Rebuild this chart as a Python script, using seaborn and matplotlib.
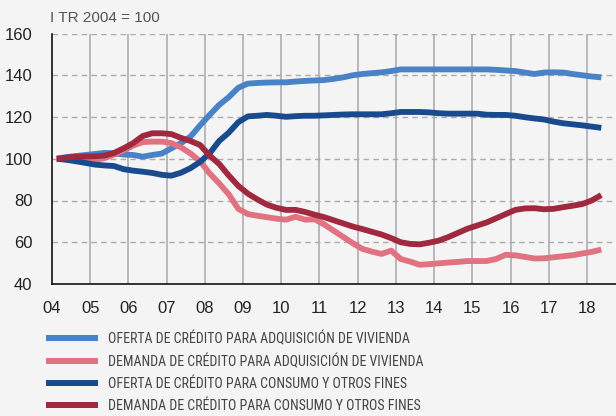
import os
import numpy as np
import pandas as pd
import matplotlib
matplotlib.use("Agg")
import matplotlib.pyplot as plt
from matplotlib import font_manager as fm
import seaborn as sns

# ---------------- data (quarterly, I TR 2004 = 100) ----------------
first_year = 2004
n_quarters = 58  # 2004 Q1 .. 2018 Q2

oferta_vivienda = [100, 100.8, 101.3, 101.8, 102.3, 102.8, 102.6, 102.0, 101.8, 101.0, 101.8, 102.5,
                   105.0, 107.5, 110.6, 116.0, 121.0, 125.8, 129.5, 134.0,
                   136.0, 136.3, 136.5, 136.6, 136.6, 137.0, 137.3, 137.5, 137.7, 138.3, 139.0, 140.0,
                   140.6, 141.0, 141.4, 142.0,
                   142.8, 142.8, 142.8, 142.8, 142.8, 142.8, 142.8, 142.8, 142.8, 142.8,
                   142.6, 142.3, 142.0, 141.3, 140.6, 141.3, 141.4, 141.3, 140.6, 140.0, 139.4, 139.0]
demanda_vivienda = [100, 99.8, 99.6, 99.3, 99.5, 100.3, 102.0, 104.0, 106.3, 108.0, 108.2, 108.2,
                    107.5, 105.5, 102.5, 98.8, 93.0, 88.2, 83.0, 76.0,
                    73.5, 72.7, 72.0, 71.3, 70.8, 72.2, 70.8, 71.0, 68.5, 65.5, 62.5, 59.5,
                    56.8, 55.5, 54.4, 56.0,
                    52.0, 50.7, 49.2, 49.5, 49.9, 50.3, 50.6, 51.0, 51.0, 51.0,
                    52.0, 54.0, 53.7, 53.0, 52.2, 52.3, 52.8, 53.3, 53.8, 54.6, 55.4, 56.5]
oferta_consumo = [100, 99.5, 98.8, 98.0, 97.2, 96.8, 96.5, 95.0, 94.3, 93.8, 93.2, 92.3,
                  91.9, 93.3, 95.5, 98.5, 102.6, 108.5, 112.5, 117.5,
                  120.3, 120.6, 121.0, 120.6, 120.1, 120.4, 120.6, 120.6, 120.8, 121.0, 121.2, 121.3,
                  121.3, 121.3, 121.3, 121.8,
                  122.4, 122.4, 122.4, 122.2, 121.8, 121.6, 121.6, 121.6, 121.6, 121.1,
                  121.0, 121.0, 120.6, 119.9, 119.3, 118.8, 117.8, 117.0, 116.5, 116.0, 115.4, 114.8]
demanda_consumo = [100, 100.5, 101.0, 101.1, 101.2, 101.5, 102.8, 105.0, 107.5, 110.9, 112.2, 112.2,
                   111.8, 110.0, 108.5, 106.6, 101.5, 97.5, 92.0, 87.0,
                   83.3, 80.5, 78.0, 76.5, 75.5, 75.5, 74.5, 73.2, 72.0, 70.5, 69.0, 67.5,
                   66.3, 65.0, 63.7, 62.0,
                   60.0, 59.2, 59.0, 59.8, 60.8, 62.5, 64.5, 66.5, 68.0, 69.5,
                   71.5, 73.5, 75.5, 76.2, 76.3, 75.8, 76.0, 76.8, 77.5, 78.3, 80.0, 82.6]

series_names = ["OFERTA DE CRÉDITO PARA ADQUISICIÓN DE VIVIENDA",
                "DEMANDA DE CRÉDITO PARA ADQUISICIÓN DE VIVIENDA",
                "OFERTA DE CRÉDITO PARA CONSUMO Y OTROS FINES",
                "DEMANDA DE CRÉDITO PARA CONSUMO Y OTROS FINES"]
series_values = [oferta_vivienda, demanda_vivienda, oferta_consumo, demanda_consumo]
series_colors = ["#4a82c7", "#e07282", "#1a4a8e", "#a0283f"]

year_ticks = list(range(2004, 2019))
year_labels = [f"{y % 100:02d}" for y in year_ticks]
y_ticks = [40, 60, 80, 100, 120, 140, 160]
unit_label = "I TR 2004 = 100"

# quarter mid-points as decimal years
quarter_idx = np.arange(n_quarters)
x_time = first_year + (quarter_idx + 0.5) / 4.0

rows = []
for name, vals in zip(series_names, series_values):
    for xt, v in zip(x_time, vals):
        rows.append({"t": xt, "valor": v, "serie": name})
df = pd.DataFrame(rows)

# ---------------- figure ----------------
sns.set_theme(style="white")
plt.rcParams["font.family"] = ["Liberation Sans", "DejaVu Sans"]

# legend font: prefer a narrow / condensed face if one is installed
legend_prop = fm.FontProperties(family=["Liberation Sans", "DejaVu Sans"], size=9)
cands = [f.fname for f in fm.fontManager.ttflist]
pref = None
for key, size in [("LiberationSansNarrow-Regular", 10.2), ("RobotoCondensed-Regular", 10.0),
                  ("DejaVuSansCondensed.ttf", 9.0)]:
    hits = [c for c in cands if os.path.basename(c).startswith(key)]
    if hits:
        pref = (hits[0], size)
        break
if pref is not None:
    legend_prop = fm.FontProperties(fname=pref[0], size=pref[1])
fs_px = legend_prop.get_size_in_points() * 100 / 72

BG = "#f4f4f4"
fig = plt.figure(figsize=(6.16, 4.16), dpi=100, facecolor=BG)
ax = fig.add_axes([52 / 616, 1 - 284 / 416, 1 - 52 / 616, (284 - 33.5) / 416])
ax.set_facecolor(BG)

sns.lineplot(data=df, x="t", y="valor", hue="serie", hue_order=series_names,
             palette=dict(zip(series_names, series_colors)), linewidth=4.2,
             ax=ax, legend=False, sort=False, solid_capstyle="butt")

ax.set_xlim(2004, 2018.76)
ax.set_ylim(40, 160)
ax.set_xticks(year_ticks)
ax.set_xticklabels(year_labels)
ax.set_yticks(y_ticks)
ax.set_xlabel("")
ax.set_ylabel("")

# grid
for xv in year_ticks[1:]:
    ax.axvline(xv, color="#b2b2b8", lw=1.3, zorder=0)
for yv in y_ticks[1:]:
    ax.axhline(yv, color="#ababab", lw=1.0, ls=(0, (4, 3)), zorder=0)

for s in ["top", "right"]:
    ax.spines[s].set_visible(False)
for s in ["left", "bottom"]:
    ax.spines[s].set_color("#111111")
    ax.spines[s].set_linewidth(1.2)

ax.tick_params(axis="both", which="both", direction="in", length=5, width=1,
               color="#111111", labelsize=12, labelcolor="#222222")
ax.tick_params(axis="x", pad=12)
ax.tick_params(axis="y", pad=14)

fig.text(50 / 616, 1 - 17.5 / 416, unit_label, fontsize=11, color="#555555",
         ha="left", va="center")

handles = [plt.Line2D([0], [0], color=c, lw=4.3, solid_capstyle="butt") for c in series_colors]
leg = fig.legend(handles, series_names, loc="upper left",
                 bbox_to_anchor=(46 / 616, 1 - 331 / 416), bbox_transform=fig.transFigure,
                 frameon=False, borderpad=0, borderaxespad=0,
                 handlelength=52 / fs_px, handletextpad=10 / fs_px,
                 labelspacing=(22.6 - 0.96 * fs_px - 1.3) / fs_px,
                 prop=legend_prop)
for t in leg.get_texts():
    t.set_color("#444444")

fig.savefig("out.png", dpi=100, facecolor=BG)
